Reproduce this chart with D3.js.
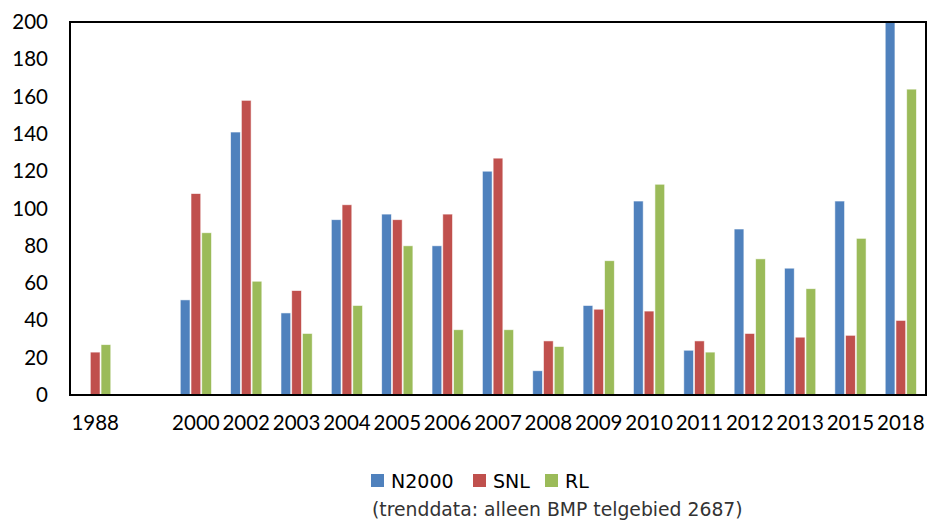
<!DOCTYPE html>
<html>
<head>
<meta charset="utf-8">
<script src="https://cdn.jsdelivr.net/npm/d3@7"></script>
<style>
  html, body { margin: 0; padding: 0; background: #fff; }
  svg { display: block; }
</style>
</head>
<body>
<svg id="chart" width="936" height="523"></svg>
<script>
// Survey years (one empty slot between 1988 and 2000)
const years = ["1988", "", "2000", "2002", "2003", "2004", "2005", "2006", "2007",
               "2008", "2009", "2010", "2011", "2012", "2013", "2015", "2018"];
const seriesNames = ["N2000", "SNL", "RL"];
const seriesColors = ["#4F81BD", "#C0504D", "#9BBB59"];

const n2000 = [0, null, 51, 141, 44, 94, 97, 80, 120, 13, 48, 104, 24, 89, 68, 104, 200];
const snl   = [23, null, 108, 158, 56, 102, 94, 97, 127, 29, 46, 45, 29, 33, 31, 32, 40];
const rl    = [27, null, 87, 61, 33, 48, 80, 35, 35, 26, 72, 113, 23, 73, 57, 84, 164];

const yTicks = [0, 20, 40, 60, 80, 100, 120, 140, 160, 180, 200];
const note = "(trenddata: alleen BMP telgebied 2687)";

const values = [n2000, snl, rl];

const svg = d3.select("#chart");
const plot = { left: 70, right: 926, top: 22, bottom: 395 };

const x0 = d3.scaleBand()
  .domain(d3.range(years.length))
  .range([plot.left, plot.right])
  .paddingInner(0.36)
  .paddingOuter(0.18);

const x1 = d3.scaleBand()
  .domain(d3.range(seriesNames.length))
  .range([0, x0.bandwidth()]);

const y = d3.scaleLinear().domain([0, 200]).range([plot.bottom, plot.top]);

// Bars
const groups = svg.append("g")
  .selectAll("g")
  .data(years.map((yr, i) => i))
  .join("g")
  .attr("transform", i => `translate(${x0(i)},0)`);

groups.selectAll("rect")
  .data(i => values.map((arr, s) => ({ s, v: arr[i] })).filter(d => d.v != null && d.v > 0))
  .join("rect")
  .attr("x", d => x1(d.s) + 0.5)
  .attr("width", x1.bandwidth() - 1)
  .attr("y", d => y(d.v))
  .attr("height", d => y(0) - y(d.v))
  .attr("fill", d => seriesColors[d.s])
  .attr("stroke", "#fff")
  .attr("stroke-opacity", 0.7)
  .attr("stroke-width", 0.8);

// Plot frame
svg.append("rect")
  .attr("x", plot.left).attr("y", plot.top)
  .attr("width", plot.right - plot.left).attr("height", plot.bottom - plot.top)
  .attr("fill", "none")
  .attr("stroke", "#000")
  .attr("stroke-width", 2);

// Y axis
const yAxis = d3.axisLeft(y).tickValues(yTicks).tickSize(0).tickPadding(22);
const gy = svg.append("g").attr("transform", `translate(${plot.left},0)`).call(yAxis);
gy.select(".domain").remove();
gy.selectAll("text")
  .attr("font-family", "Lato, 'Open Sans', sans-serif")
  .attr("font-size", 20.5)
  .attr("fill", "#000");

// X axis
const xAxis = d3.axisBottom(x0).tickSize(0).tickPadding(20).tickFormat(i => years[i]);
const gx = svg.append("g").attr("transform", `translate(0,${plot.bottom})`).call(xAxis);
gx.select(".domain").remove();
gx.selectAll("text")
  .attr("font-family", "Lato, 'Open Sans', sans-serif")
  .attr("font-size", 20.5)
  .attr("fill", "#000");

// Legend
const legendX = [371, 473, 545];
const legend = svg.append("g");
seriesNames.forEach((name, i) => {
  legend.append("rect")
    .attr("x", legendX[i]).attr("y", 474)
    .attr("width", 13).attr("height", 13)
    .attr("fill", seriesColors[i]);
  legend.append("text")
    .attr("x", legendX[i] + 20).attr("y", 487.5)
    .attr("font-family", "'DejaVu Sans', sans-serif")
    .attr("font-size", 19)
    .attr("fill", "#000")
    .text(name);
});

svg.append("text")
  .attr("x", 372).attr("y", 516)
  .attr("font-family", "'DejaVu Sans', sans-serif")
  .attr("font-size", 18.8)
  .attr("fill", "#333")
  .text(note);
</script>
</body>
</html>
